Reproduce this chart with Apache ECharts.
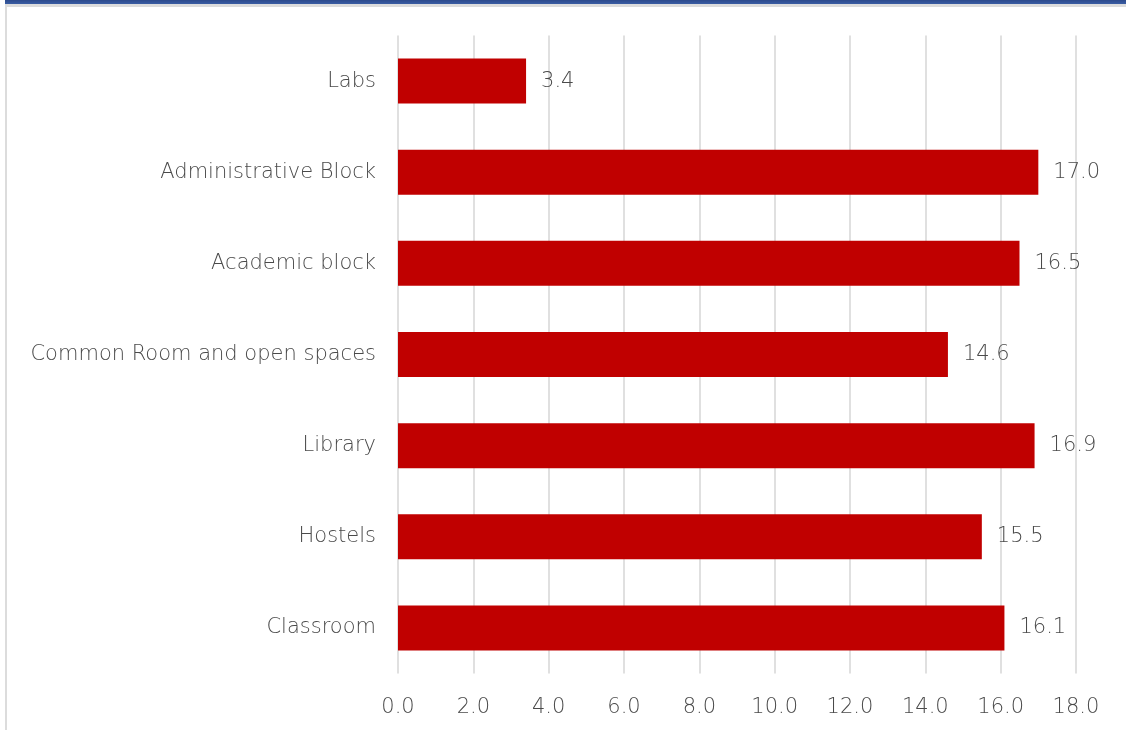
<!DOCTYPE html>
<html>
<head>
<meta charset="utf-8">
<title>Bar chart</title>
<script src="https://cdn.jsdelivr.net/npm/echarts@6/dist/echarts.min.js"></script>
<style>
  html, body { margin: 0; padding: 0; background: #ffffff; }
  #frame { position: relative; width: 1126px; height: 730px; overflow: hidden; }
  #topband { position: absolute; left: 5px; top: 0; width: 1121px; height: 4px;
             background: linear-gradient(#2c4a8c, #3a5da3); }
  #topline { position: absolute; left: 5px; top: 4px; width: 1121px; height: 3px; background: #dcdcdc; }
  #leftline { position: absolute; left: 5px; top: 4px; width: 2px; height: 726px; background: #dcdcdc; }
  #chart { position: absolute; left: 0; top: 0; width: 1126px; height: 730px; }
</style>
</head>
<body>
<div id="frame">
  <div id="chart"></div>
  <div id="topband"></div>
  <div id="topline"></div>
  <div id="leftline"></div>
</div>
<script>
// Categories, listed top to bottom
const categories = [
  'Labs',
  'Administrative Block',
  'Academic block',
  'Common Room and open spaces',
  'Library',
  'Hostels',
  'Classroom'
];
const values = [3.4, 17.0, 16.5, 14.6, 16.9, 15.5, 16.1];
const axisMin = 0;
const axisMax = 18;
const axisStep = 2;

const textColor = '#4a4a4a';
const fontFamily = "'DejaVu Sans', sans-serif";
const textStyle = { color: textColor, fontSize: 21, fontFamily: fontFamily, fontWeight: 200 };

const chart = echarts.init(document.getElementById('chart'), null, { renderer: 'canvas' });
chart.setOption({
  animation: false,
  backgroundColor: '#ffffff',
  grid: { left: 398, right: 50, top: 35.5, bottom: 56.5, containLabel: false },
  xAxis: {
    type: 'value',
    min: axisMin,
    max: axisMax,
    interval: axisStep,
    axisLine: { show: false },
    axisTick: { show: false },
    splitLine: { show: true, lineStyle: { color: '#e0e0e0', width: 2 } },
    axisLabel: Object.assign({}, textStyle, {
      margin: 24,
      formatter: v => v.toFixed(1)
    })
  },
  yAxis: {
    type: 'category',
    inverse: true,
    data: categories,
    axisLine: { show: false },
    axisTick: { show: false },
    axisLabel: Object.assign({}, textStyle, { margin: 22 })
  },
  series: [{
    type: 'bar',
    data: values,
    barWidth: 45,
    itemStyle: { color: '#c00000' },
    label: Object.assign({}, textStyle, {
      show: true,
      position: 'right',
      distance: 15,
      formatter: p => p.value.toFixed(1)
    })
  }]
});
</script>
</body>
</html>
